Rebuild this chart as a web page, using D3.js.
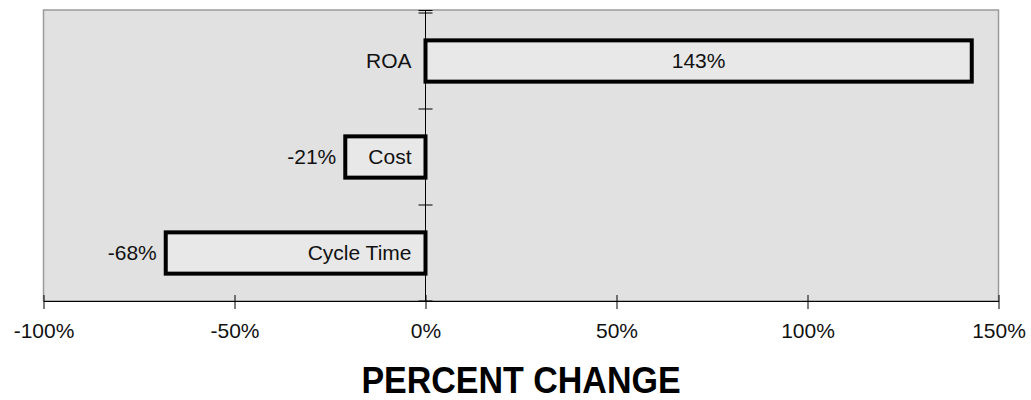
<!DOCTYPE html>
<html>
<head>
<meta charset="utf-8">
<script src="https://cdn.jsdelivr.net/npm/d3@7"></script>
<style>
  html, body { margin: 0; padding: 0; background: #fff; }
  svg { display: block; font-family: "Liberation Sans", Arial, sans-serif; }
</style>
</head>
<body>
<svg id="chart" width="1031" height="400"></svg>
<script>
// Percent change by measure
const categories = ["ROA", "Cost", "Cycle Time"];
const changes = [143, -21, -68];
const tickValues = [-100, -50, 0, 50, 100, 150];
const axisTitle = "PERCENT CHANGE";

const svg = d3.select("#chart");
const plot = { left: 43.5, right: 998.5, top: 10, bottom: 301 };

const x = d3.scaleLinear().domain([-100, 150]).range([plot.left, plot.right]);
const y = d3.scaleBand()
  .domain(categories)
  .range([13, plot.bottom])
  .paddingInner(0.57)
  .paddingOuter(0.285);

// plot background
svg.append("rect")
  .attr("x", plot.left).attr("y", plot.top)
  .attr("width", plot.right - plot.left).attr("height", plot.bottom - plot.top)
  .attr("fill", "#e1e1e1").attr("stroke", "#9a9a9a").attr("stroke-width", 1.5);

// bottom axis
const xAxis = svg.append("g")
  .attr("transform", `translate(0,${plot.bottom})`)
  .call(d3.axisBottom(x).tickValues(tickValues).tickFormat(d => d + "%").tickSize(7).tickSizeOuter(0));
xAxis.select(".domain").attr("stroke", "#000");
xAxis.selectAll(".tick line").attr("y1", -6).attr("y2", 8).attr("stroke", "#000");
xAxis.selectAll(".tick text")
  .attr("y", 37).attr("dy", null)
  .attr("font-size", 21).attr("font-family", "Liberation Sans, Arial, sans-serif")
  .attr("fill", "#111");

// zero line with category boundary ticks
const x0 = x(0);
const bounds = d3.range(categories.length + 1).map(i => y.range()[0] + y.step() * i);
const zero = svg.append("g");
zero.append("line")
  .attr("x1", x0).attr("x2", x0).attr("y1", plot.top).attr("y2", plot.bottom)
  .attr("stroke", "#000");
zero.selectAll("line.b").data(bounds).join("line").attr("class", "b")
  .attr("x1", x0 - 7).attr("x2", x0 + 7)
  .attr("y1", d => Math.min(d, plot.bottom)).attr("y2", d => Math.min(d, plot.bottom))
  .attr("stroke", "#000");
zero.append("line")
  .attr("x1", x0 - 7).attr("x2", x0 + 7).attr("y1", plot.top + 0.5).attr("y2", plot.top + 0.5)
  .attr("stroke", "#000");

// bars
const data = categories.map((c, i) => ({ cat: c, value: changes[i] }));
svg.append("g").selectAll("rect").data(data).join("rect")
  .attr("x", d => Math.min(x(0), x(d.value)))
  .attr("width", d => Math.abs(x(d.value) - x(0)))
  .attr("y", d => y(d.cat))
  .attr("height", y.bandwidth())
  .attr("fill", "#e8e8e8")
  .attr("stroke", "#000").attr("stroke-width", 4);

// labels
const labels = svg.append("g").attr("font-size", 21).attr("fill", "#111");
data.forEach(d => {
  const cy = y(d.cat) + y.bandwidth() / 2 + 7;
  // category label, right-aligned just left of the zero line
  labels.append("text")
    .attr("x", x(0) - 14).attr("y", cy)
    .attr("text-anchor", "end").text(d.cat);
  if (d.value >= 0) {
    labels.append("text")
      .attr("x", (x(0) + x(d.value)) / 2).attr("y", cy)
      .attr("text-anchor", "middle").text(d.value + "%");
  } else {
    labels.append("text")
      .attr("x", x(d.value) - 9).attr("y", cy)
      .attr("text-anchor", "end").text(d.value + "%");
  }
});

// axis title
svg.append("text")
  .attr("transform", `translate(${(plot.left + plot.right) / 2},393) scale(1,1.08)`)
  .attr("text-anchor", "middle")
  .attr("font-size", 34).attr("font-weight", "bold").attr("fill", "#000")
  .text(axisTitle);
</script>
</body>
</html>
